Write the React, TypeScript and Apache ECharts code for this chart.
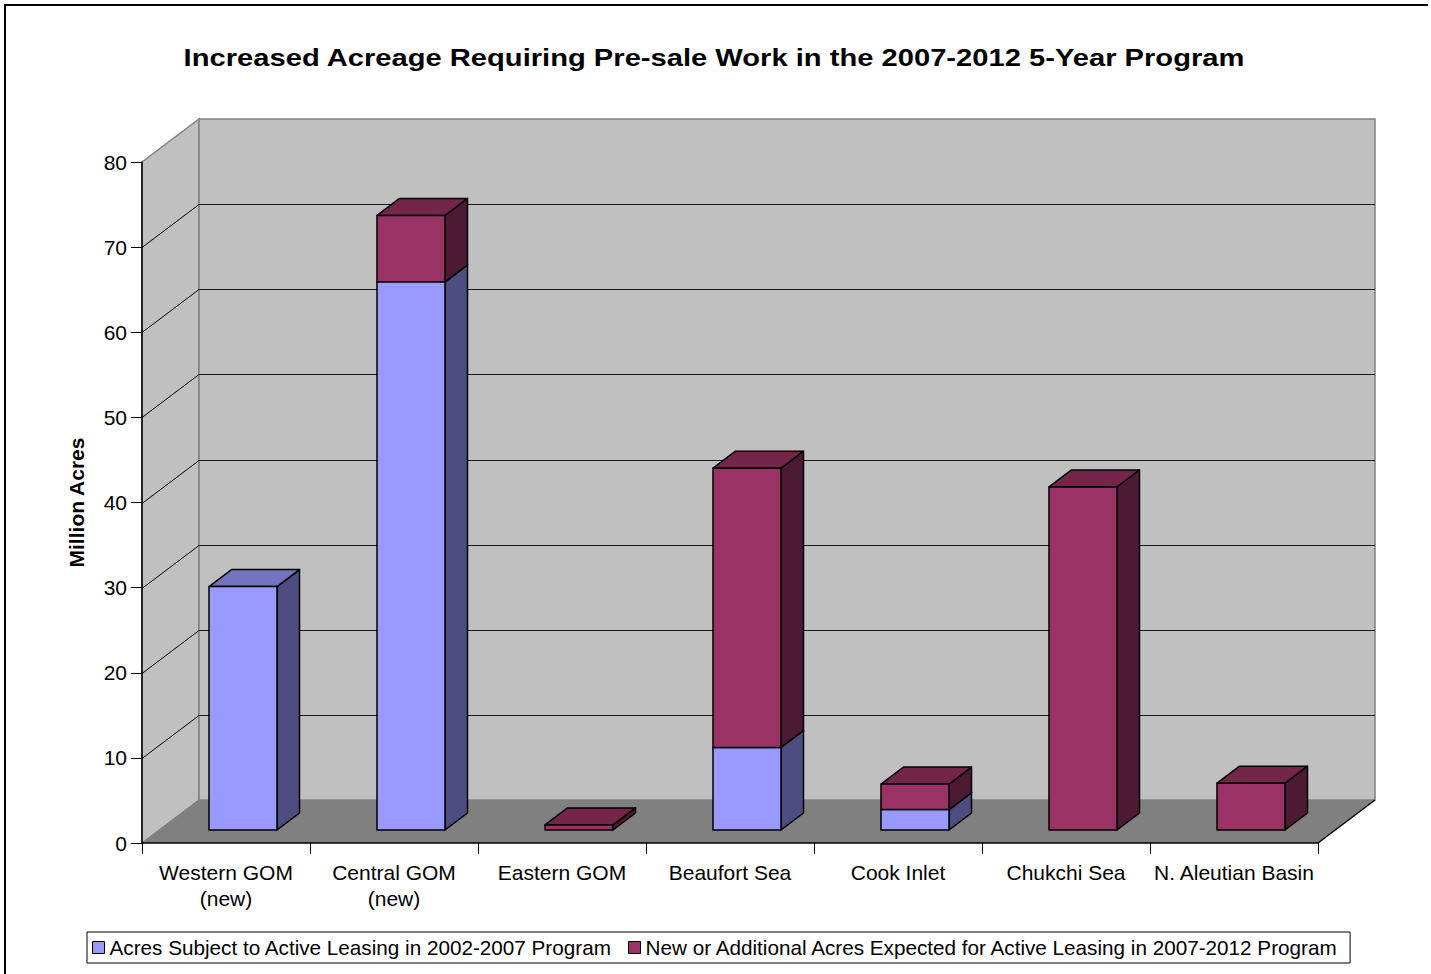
import React, { useEffect, useRef } from 'react';
import * as echarts from 'echarts';

const categories = [
  'Western GOM\n(new)',
  'Central GOM\n(new)',
  'Eastern GOM',
  'Beaufort Sea',
  'Cook Inlet',
  'Chukchi Sea',
  'N. Aleutian Basin',
];
const activeLeasing = [28.6, 64.4, 0, 9.7, 2.4, 0, 0];
const newAcres = [0, 7.8, 0.6, 32.8, 3.0, 40.3, 5.5];
const yTicks = [0, 10, 20, 30, 40, 50, 60, 70, 80];
const seriesNames = [
  'Acres Subject to Active Leasing in 2002-2007 Program',
  'New or Additional Acres Expected for Active Leasing in 2007-2012 Program',
];
const titleText = 'Increased Acreage Requiring Pre-sale Work in the 2007-2012 5-Year Program';
const yAxisName = 'Million Acres';

const FONT = "'Liberation Sans', Arial, Helvetica, sans-serif";

// 3D geometry (pixels)
const WALL_DX = 57;
const WALL_DY = -43;
const BAR_OFF_X = 17;
const BAR_OFF_Y = -13;
const BAR_W = 68;
const BAR_DX = 22.5;
const BAR_DY = -17;

const BLUE = { front: '#9999ff', side: '#4d4d80', top: '#7373bf' };
const MAROON = { front: '#993366', side: '#4d1a33', top: '#732649' };

function backdropRender(params: any, api: any) {
  const cs = params.coordSys;
  const x0 = cs.x;
  const x1 = cs.x + cs.width;
  const yMin = yTicks[0];
  const yMax = yTicks[yTicks.length - 1];
  const yB = api.coord([0, yMin])[1];
  const yT = api.coord([0, yMax])[1];
  const children: any[] = [];
  children.push({
    type: 'polygon',
    shape: { points: [[x0, yB], [x0, yT], [x0 + WALL_DX, yT + WALL_DY], [x0 + WALL_DX, yB + WALL_DY]] },
    style: { fill: '#c0c0c0', stroke: '#808080', lineWidth: 1.5 },
  });
  children.push({
    type: 'rect',
    shape: { x: x0 + WALL_DX, y: yT + WALL_DY, width: x1 - x0, height: yB - yT },
    style: { fill: '#c0c0c0', stroke: '#808080', lineWidth: 1.5 },
  });
  yTicks.forEach((v) => {
    if (v <= yMin || v >= yMax) return;
    const y = Math.round(api.coord([0, v])[1]) + 0.5;
    children.push({
      type: 'line',
      shape: { x1: x0 + WALL_DX, y1: y + WALL_DY, x2: x1 + WALL_DX, y2: y + WALL_DY },
      style: { stroke: '#1a1a1a', lineWidth: 1 },
    });
    children.push({
      type: 'line',
      shape: { x1: x0, y1: y, x2: x0 + WALL_DX, y2: y + WALL_DY },
      style: { stroke: '#000', lineWidth: 1 },
    });
  });
  children.push({
    type: 'polygon',
    shape: { points: [[x0, yB], [x1, yB], [x1 + WALL_DX, yB + WALL_DY], [x0 + WALL_DX, yB + WALL_DY]] },
    style: { fill: '#808080' },
  });
  children.push({
    type: 'line',
    shape: { x1: x1, y1: yB, x2: x1 + WALL_DX, y2: yB + WALL_DY },
    style: { stroke: '#000', lineWidth: 1.5 },
  });
  return { type: 'group', children };
}

function makeBarRender(c: { front: string; side: string; top: string }) {
  return (params: any, api: any) => {
    const idx = api.value(0);
    const lo = api.value(1);
    const hi = api.value(2);
    if (!(hi - lo > 0)) return null;
    const pLo = api.coord([idx, lo]);
    const pHi = api.coord([idx, hi]);
    const xl = pLo[0] + BAR_OFF_X - BAR_W / 2;
    const xr = xl + BAR_W;
    const yb = pLo[1] + BAR_OFF_Y;
    const yt = pHi[1] + BAR_OFF_Y;
    const st = { stroke: '#000', lineWidth: 1.5, lineJoin: 'round' };
    return {
      type: 'group',
      children: [
        {
          type: 'polygon',
          shape: { points: [[xr, yb], [xr, yt], [xr + BAR_DX, yt + BAR_DY], [xr + BAR_DX, yb + BAR_DY]] },
          style: { fill: c.side, ...st },
        },
        {
          type: 'polygon',
          shape: { points: [[xl, yt], [xl + BAR_DX, yt + BAR_DY], [xr + BAR_DX, yt + BAR_DY], [xr, yt]] },
          style: { fill: c.top, ...st },
        },
        {
          type: 'rect',
          shape: { x: xl, y: yt, width: BAR_W, height: yb - yt },
          style: { fill: c.front, ...st },
        },
      ],
    };
  };
}

export default function App() {
  const ref = useRef<HTMLDivElement>(null);
  useEffect(() => {
    if (!ref.current) return;
    const chart = echarts.init(ref.current, undefined, { renderer: 'svg' });
    const blueData = categories.map((_, i) => [i, 0, activeLeasing[i]]);
    const maroonData = categories.map((_, i) => [i, activeLeasing[i], activeLeasing[i] + newAcres[i]]);
    chart.setOption({
      animation: false,
      backgroundColor: '#fff',
      textStyle: { fontFamily: FONT },
      legend: {
        data: seriesNames,
        left: 87,
        top: 932,
        orient: 'horizontal',
        icon: 'rect',
        itemWidth: 12,
        itemHeight: 12,
        itemGap: 16,
        padding: [5, 10, 5, 5],
        borderColor: '#000',
        borderWidth: 1,
        borderRadius: 0,
        itemStyle: { borderColor: '#000', borderWidth: 1 },
        textStyle: { fontSize: 20.7, color: '#000', fontFamily: FONT },
        selectedMode: false,
      },
      graphic: [
        {
          type: 'polyline',
          shape: { points: [[5, 990], [5, 5], [1428, 5]] },
          style: { stroke: '#000', lineWidth: 2, fill: 'none' },
          z: 100,
        },
        {
          type: 'text',
          x: 714,
          y: 58,
          scaleX: 1.24,
          scaleY: 1,
          style: {
            text: titleText,
            fontSize: 23.5,
            fontWeight: 'bold',
            fontFamily: FONT,
            fill: '#000',
            align: 'center',
            verticalAlign: 'middle',
          },
          z: 100,
        },
      ],
      grid: { left: 142, right: 113, top: 162, bottom: 131, containLabel: false },
      xAxis: {
        type: 'category',
        data: categories,
        z: 10,
        boundaryGap: true,
        axisLine: { show: true, lineStyle: { color: '#000', width: 1.5 } },
        axisTick: { show: true, length: 11, lineStyle: { color: '#000', width: 1 } },
        axisLabel: {
          interval: 0,
          fontSize: 21,
          color: '#000',
          margin: 16,
          lineHeight: 26,
          fontFamily: FONT,
        },
        splitLine: { show: false },
      },
      yAxis: {
        type: 'value',
        min: 0,
        max: 80,
        interval: 10,
        z: 10,
        name: yAxisName,
        nameLocation: 'middle',
        nameGap: 55,
        nameTextStyle: { fontSize: 21, fontWeight: 'bold', color: '#000', fontFamily: FONT },
        axisLine: { show: true, lineStyle: { color: '#000', width: 1.5 } },
        axisTick: { show: true, length: 11, lineStyle: { color: '#000', width: 1 } },
        axisLabel: { fontSize: 21, color: '#000', margin: 15, fontFamily: FONT },
        splitLine: { show: false },
      },
      series: [
        {
          type: 'custom',
          name: '__backdrop',
          silent: true,
          z: 1,
          renderItem: backdropRender,
          data: [[0, 0, 0]],
          encode: { x: 0, y: 1 },
        },
        {
          type: 'custom',
          name: seriesNames[0],
          z: 2,
          itemStyle: { color: BLUE.front },
          renderItem: makeBarRender(BLUE),
          data: blueData,
          encode: { x: 0, y: [1, 2] },
        },
        {
          type: 'custom',
          name: seriesNames[1],
          z: 2,
          itemStyle: { color: MAROON.front },
          renderItem: makeBarRender(MAROON),
          data: maroonData,
          encode: { x: 0, y: [1, 2] },
        },
      ],
    });
    return () => chart.dispose();
  }, []);
  return (
    <div
      ref={ref}
      style={{ position: 'absolute', left: 0, top: 0, width: 1431, height: 974, background: '#fff' }}
    />
  );
}
